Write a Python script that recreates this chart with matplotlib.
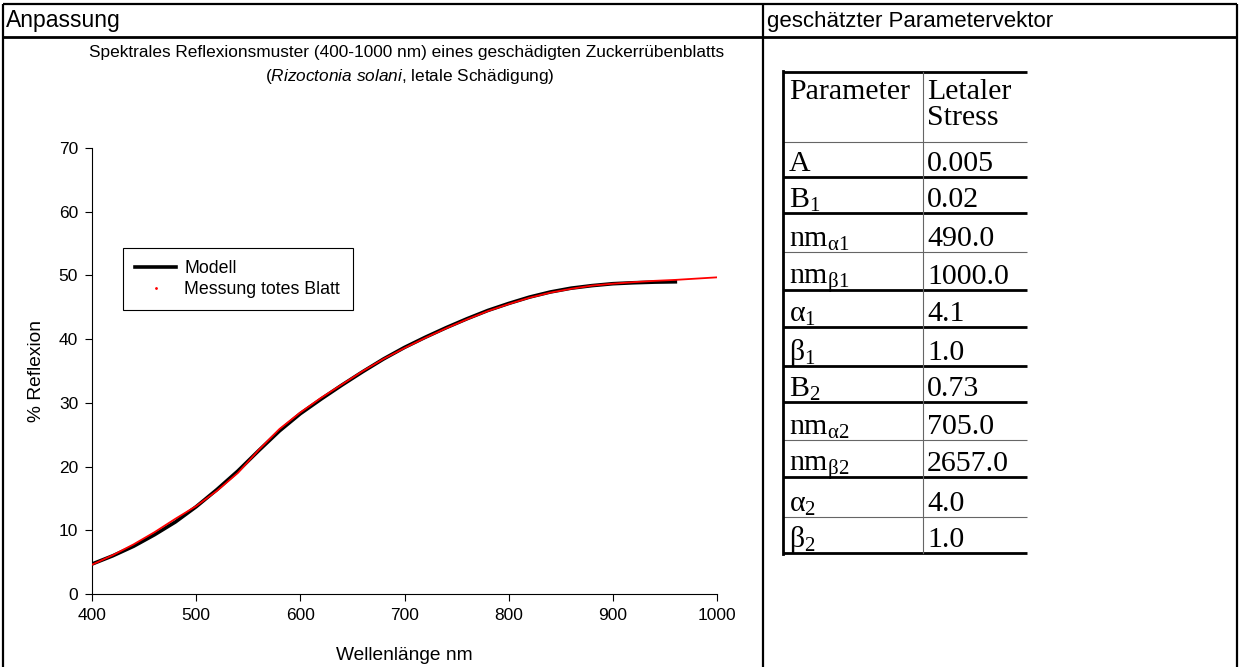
import matplotlib
matplotlib.use("Agg")
import matplotlib.pyplot as plt
from matplotlib.lines import Line2D
from matplotlib import font_manager

# ---- data ----
wl_model = [400, 420, 440, 460, 480, 500, 520, 540, 560, 580, 600, 620, 640, 660, 680,
            700, 720, 740, 760, 780, 800, 820, 840, 860, 880, 900, 920, 940, 960]
refl_model = [4.7, 6.0, 7.5, 9.3, 11.3, 13.7, 16.4, 19.3, 22.5, 25.6, 28.3, 30.6, 32.8, 34.9, 36.9,
              38.7, 40.3, 41.8, 43.2, 44.5, 45.6, 46.6, 47.4, 48.0, 48.4, 48.7, 48.85, 48.95, 49.0]

wl_meas = [400, 420, 440, 460, 480, 500, 520, 540, 560, 580, 600, 620, 640, 660, 680,
           700, 720, 740, 760, 780, 800, 820, 840, 860, 880, 900, 920, 940, 960, 980, 1000]
refl_meas = [4.6, 6.1, 7.8, 9.7, 11.8, 13.8, 16.2, 19.0, 22.6, 25.9, 28.5, 30.8, 32.9, 35.0, 36.9,
             38.6, 40.2, 41.7, 43.1, 44.4, 45.5, 46.5, 47.3, 47.9, 48.4, 48.7, 48.95, 49.15, 49.3, 49.5, 49.7]

param_names = ["A", "B$_{\\mathrm{1}}$", "nm$_{\\mathrm{\u03b11}}$", "nm$_{\\mathrm{\u03b21}}$",
               "\u03b1$_{\\mathrm{1}}$", "\u03b2$_{\\mathrm{1}}$", "B$_{\\mathrm{2}}$",
               "nm$_{\\mathrm{\u03b12}}$", "nm$_{\\mathrm{\u03b22}}$", "\u03b1$_{\\mathrm{2}}$",
               "\u03b2$_{\\mathrm{2}}$"]
param_values = ["0.005", "0.02", "490.0", "1000.0", "4.1", "1.0", "0.73", "705.0", "2657.0", "4.0", "1.0"]

names = {f.name for f in font_manager.fontManager.ttflist}
SANS = "Liberation Sans" if "Liberation Sans" in names else "DejaVu Sans"
SERIF = "Liberation Serif" if "Liberation Serif" in names else "DejaVu Serif"

plt.rcParams["font.family"] = SANS
plt.rcParams["mathtext.fontset"] = "custom"
plt.rcParams["mathtext.rm"] = SERIF
plt.rcParams["mathtext.it"] = SANS + ":italic"

W, H = 1240, 667
fig = plt.figure(figsize=(W / 100, H / 100), dpi=100)

# overlay in pixel coordinates for the document table around the chart
ov = fig.add_axes([0, 0, 1, 1])
ov.set_xlim(0, W)
ov.set_ylim(H, 0)
ov.axis("off")

k = dict(color="black", solid_capstyle="butt")
ov.plot([3, 1237], [4, 4], lw=1.6, **k)
ov.plot([3, 1237], [37, 37], lw=2.0, **k)
ov.plot([3, 3], [4, H], lw=1.6, **k)
ov.plot([1237, 1237], [4, H], lw=1.6, **k)
ov.plot([763, 763], [4, H], lw=1.6, **k)
ov.text(6, 21, "Anpassung", fontsize=16.5, va="center", ha="left")
ov.text(767, 21, "geschätzter Parametervektor", fontsize=16, va="center", ha="left")

# chart title (two lines)
ov.text(407, 52, "Spektrales Reflexionsmuster (400-1000 nm) eines geschädigten Zuckerrübenblatts",
        fontsize=12.4, ha="center", va="center")
ov.text(410, 77, "($\\mathit{Rizoctonia\\ solani}$, letale Schädigung)",
        fontsize=12.4, ha="center", va="center")

# parameter table
row_lines = [72, 142, 177, 213, 252, 290, 327, 366, 402, 440, 477, 517, 553]
thick = [True, False, True, True, False, True, True, True, True, False, True, False, True]
for yy, th in zip(row_lines, thick):
    ov.plot([783, 1027], [yy, yy], color="black" if th else "#666666",
            lw=2.0 if th else 0.8, solid_capstyle="butt")
ov.plot([783, 783], [71, 554], color="black", lw=2.0)
ov.plot([923, 923], [72, 553], color="#666666", lw=0.8)

tkw = dict(family=SERIF, fontsize=21.5, va="baseline", ha="left")
ov.text(789, 99, "Parameter", **tkw)
ov.text(927, 99, "Letaler", **tkw)
ov.text(927, 125, "Stress", **tkw)
for i, (nm, val) in enumerate(zip(param_names, param_values)):
    base = row_lines[i + 2] - 6
    ov.text(789, base, nm, **tkw)
    ov.text(927, base, val, **tkw)

# chart
ax = fig.add_axes([92 / W, 1 - 594 / H, (717 - 92) / W, (594 - 148) / H])
ax.patch.set_visible(False)
ax.plot(wl_model, refl_model, color="black", lw=2.6, zorder=2)
ax.plot(wl_meas, refl_meas, color="red", lw=1.3, zorder=3)
ax.set_xlim(400, 1000)
ax.set_ylim(0, 70)
ax.set_xticks(range(400, 1001, 100))
ax.set_yticks(range(0, 71, 10))
ax.spines["top"].set_visible(False)
ax.spines["right"].set_visible(False)
ax.spines["left"].set_linewidth(0.8)
ax.spines["bottom"].set_linewidth(0.8)
ax.tick_params(direction="out", length=5, width=0.8, labelsize=12.5, pad=5)
ax.set_xlabel("Wellenlänge nm", fontsize=13.8, labelpad=17)
ax.set_ylabel("% Reflexion", fontsize=13.8, labelpad=10)

handles = [Line2D([], [], color="black", lw=2.6),
           Line2D([], [], color="red", marker=".", markersize=2, linestyle="none")]
ax.legend(handles, ["Modell", "Messung totes Blatt"], loc="upper left",
          bbox_to_anchor=(123 / W, 1 - 248 / H), bbox_transform=fig.transFigure,
          borderaxespad=0, fontsize=12.8, frameon=True, fancybox=False, framealpha=1,
          edgecolor="black", borderpad=0.7, handlelength=2.3, handletextpad=0.45,
          labelspacing=0.2)
ax.get_legend().get_frame().set_linewidth(0.8)

fig.savefig("out.png", dpi=100)
